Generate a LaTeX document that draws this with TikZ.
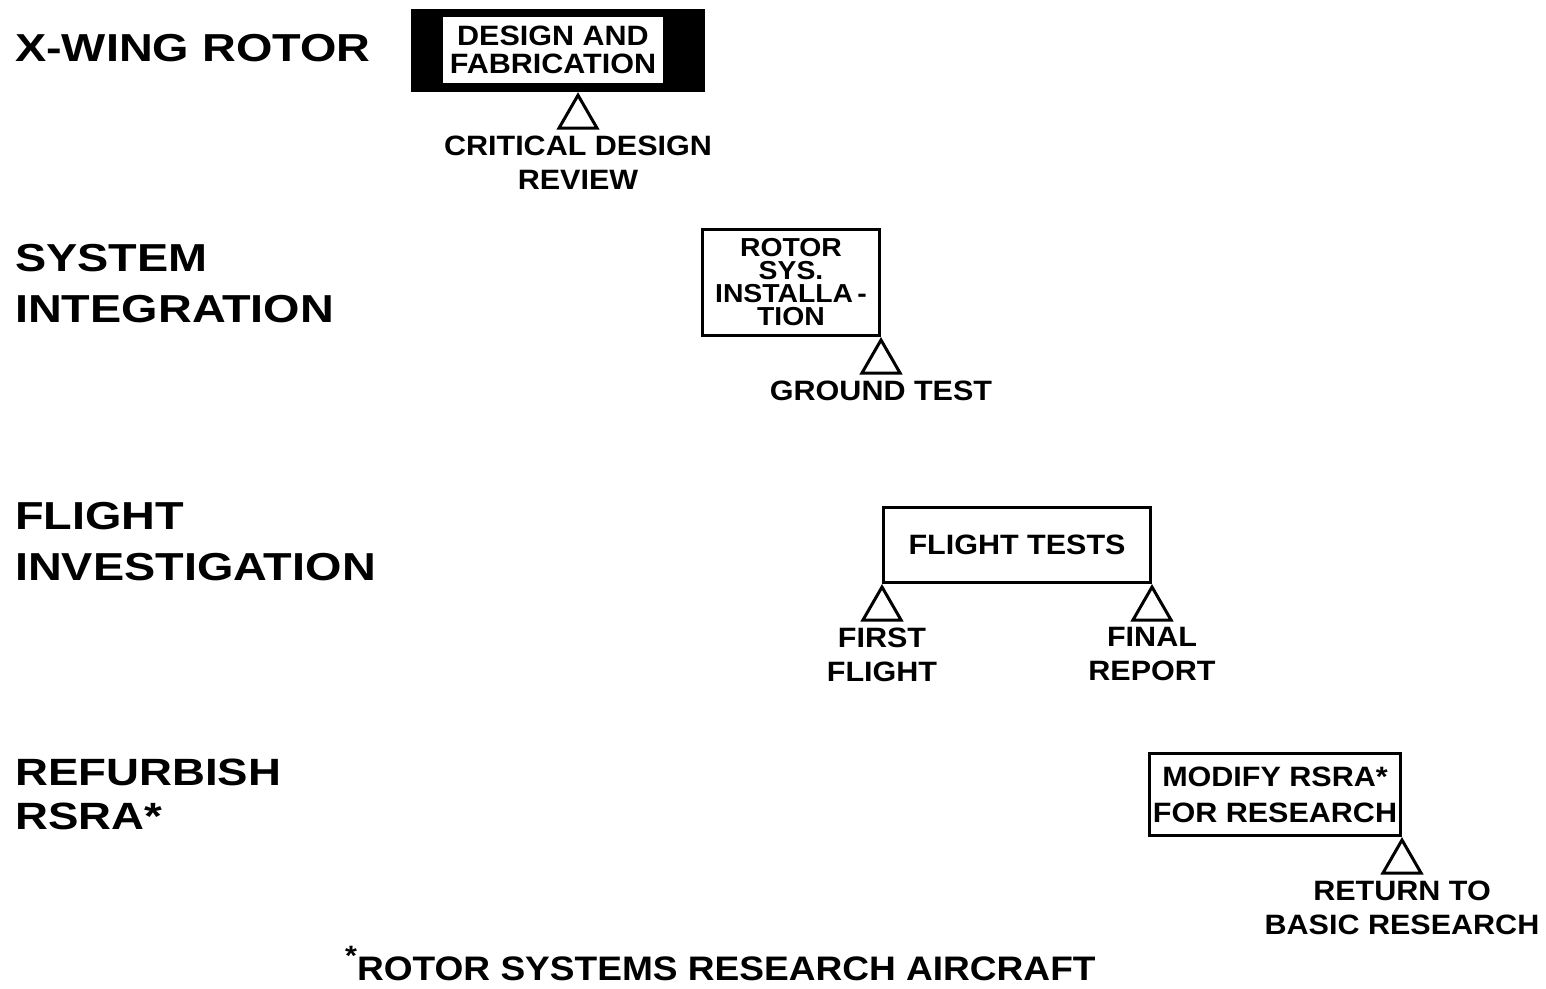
\documentclass[tikz,border=0pt]{standalone}
\usepackage{fontspec}
\setmainfont{Liberation Sans}
\newfontfamily\widefont{Liberation Sans}[FakeStretch=1.2]
\newfontfamily\boxfont{Liberation Sans}[FakeStretch=1.09]
\usetikzlibrary{shapes.geometric, positioning}

\begin{document}
\begin{tikzpicture}[
    x=1pt, y=-1pt,
    phase/.style={anchor=north west, inner sep=0pt, align=left, font=\widefont\bfseries\fontsize{39}{51}\selectfont},
    task/.style={draw, line width=3pt, inner sep=0pt, align=center, font=\boxfont\bfseries\fontsize{28}{34}\selectfont},
    milestone/.style={draw, line width=3pt, regular polygon, regular polygon sides=3, minimum size=44pt, inner sep=0pt, anchor=corner 1},
    event/.style={inner sep=0pt, align=center, font=\boxfont\bfseries\fontsize{28}{34}\selectfont}
]
    \useasboundingbox (0,0) rectangle (1546,988);
    % Phase labels down the left side
    \node[phase] (xwing) at (15,34) {X-WING ROTOR};
    \node[phase] (sysint) at (15,244) {SYSTEM\\INTEGRATION};
    \node[phase] (flightinv) at (15,502) {FLIGHT\\INVESTIGATION};
    \node[phase, font=\widefont\bfseries\fontsize{38}{44}\selectfont] (refurb) at (15,759) {REFURBISH\\RSRA*};
    % X-wing rotor: blackened bar with the task text
    \node[fill=black, minimum width=294pt, minimum height=83pt, inner sep=0pt] (designbox) at (558,50.5) {};
    \node[fill=white, minimum width=220pt, minimum height=66pt, inner sep=0pt, align=center,
          font=\boxfont\bfseries\fontsize{28}{28}\selectfont] (design) at (553,50) {DESIGN AND\\FABRICATION};
    \node[milestone] (cdr) at ([xshift=20pt]designbox.south) {};
    \node[event, below=6pt of cdr] (cdrtext) {CRITICAL DESIGN\\REVIEW};
    % System integration
    \node[task, minimum width=177pt, minimum height=106pt, font=\boxfont\bfseries\fontsize{26}{23}\selectfont] (rotor) at (791,282.5) {ROTOR\\SYS.\\INSTALLA\,-\\TION};
    \node[milestone] (ground) at (rotor.south east) {};
    \node[event, below=6pt of ground] (groundtext) {GROUND TEST};
    % Flight investigation
    \node[task, minimum width=267pt, minimum height=75pt] (flight) at (1017,545) {FLIGHT TESTS};
    \node[milestone] (first) at (flight.south west) {};
    \node[milestone] (final) at (flight.south east) {};
    \node[event, below=6pt of first] (firsttext) {FIRST\\FLIGHT};
    \node[event, below=6pt of final] (finaltext) {FINAL\\REPORT};
    % Refurbish RSRA
    \node[task, minimum width=251pt, minimum height=82pt, font=\boxfont\bfseries\fontsize{28}{36}\selectfont] (modify) at (1275,794.5) {MODIFY RSRA*\\FOR RESEARCH};
    \node[milestone] (return) at (modify.south east) {};
    \node[event, below=6pt of return] (returntext) {RETURN TO\\BASIC RESEARCH};
    % Footnote
    \node[anchor=base west, inner sep=0pt, font=\boxfont\bfseries\fontsize{34}{40}\selectfont] (footnote) at (345,980) {\raisebox{15pt}{\fontsize{28}{28}\selectfont *}ROTOR SYSTEMS RESEARCH AIRCRAFT};
\end{tikzpicture}
\end{document}
